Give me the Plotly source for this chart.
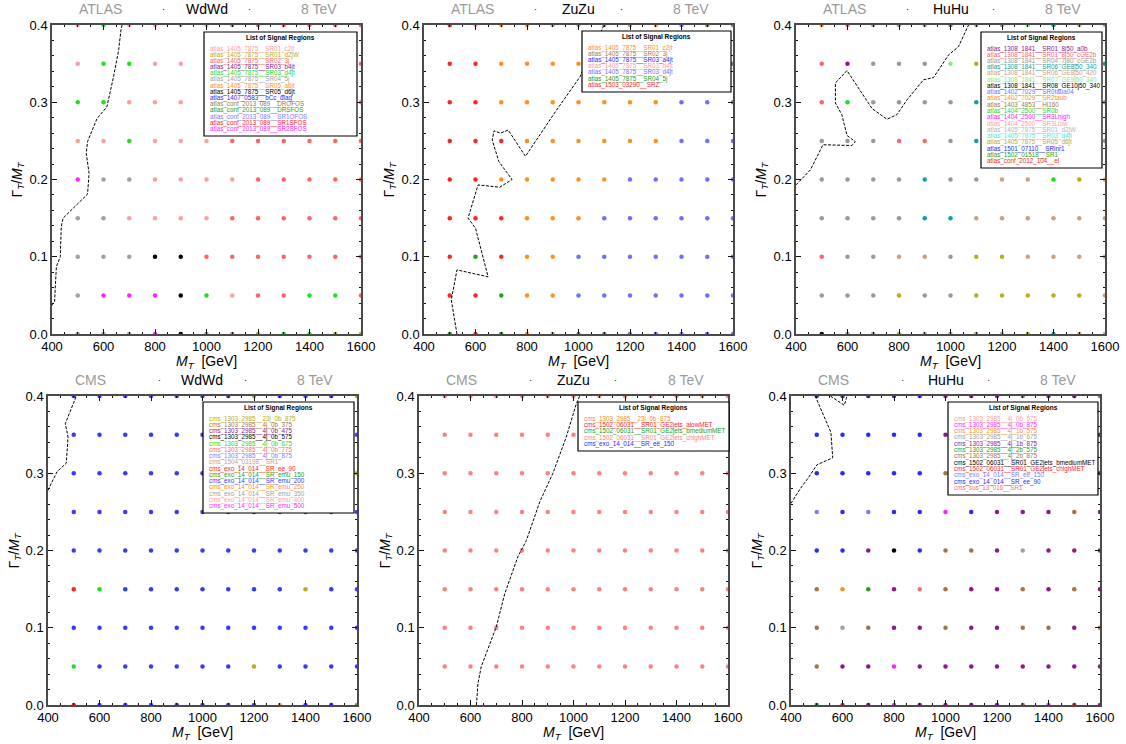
import plotly.graph_objects as go

# ---------------- data ----------------
x_values = [500, 600, 700, 800, 900, 1000, 1100, 1200, 1300, 1400, 1500, 1600]
y_values = [0.40, 0.35, 0.30, 0.25, 0.20, 0.15, 0.10, 0.05, 0.00]  # grid rows, top to bottom
x_ticks = [400, 600, 800, 1000, 1200, 1400, 1600]
y_ticks = [0.0, 0.1, 0.2, 0.3, 0.4]
codes = "0123456789abcdefghijk"

experiments = ["ATLAS", "ATLAS", "ATLAS", "CMS", "CMS", "CMS"]
processes = ["WdWd", "ZuZu", "HuHu", "WdWd", "ZuZu", "HuHu"]
energy = "8 TeV"

# Panel 1: ATLAS WdWd
p1_regions = ["atlas_1405_7875__SR01_c2jt", "atlas_1405_7875__SR01_d2jW", "atlas_1405_7875__SR02_3j",
              "atlas_1405_7875__SR03_b4jt", "atlas_1405_7875__SR03_d4jt", "atlas_1405_7875__SR04_5j",
              "atlas_1405_7875__SR05_a6jt", "atlas_1405_7875__SR05_d6jt", "atlas_1407_0583__bCc_diag",
              "atlas_conf_2013_089__DROFOS", "atlas_conf_2013_089__DRSFOS", "atlas_conf_2013_089__SR1OFOS",
              "atlas_conf_2013_089__SR1SFOS", "atlas_conf_2013_089__SR2SFOS"]
p1_colors = ["#FF9E9E", "#B5AD22", "#FF6464", "#8A1A8A", "#22DD22", "#A0A0A0", "#FF9020", "#000000",
             "#2828FF", "#A07850", "#22A022", "#7C7CFF", "#FF2424", "#FF22FF"]
p1_grid = ["040000222222",
           "044000222222",
           "440000222222",
           "004000222222",
           "d55000022222",
           "550000222222",
           "555772222222",
           "5ddd74022442",
           "555d72214411"]
p1_contour_x = [400, 403, 410, 417, 423, 432, 436, 443, 538, 544, 533, 538, 575, 613, 639, 659, 668, 672]
p1_contour_y = [0.037, 0.040, 0.042, 0.0875, 0.092, 0.100, 0.139, 0.150, 0.181, 0.208, 0.234, 0.249,
                0.279, 0.294, 0.333, 0.368, 0.394, 0.400]

# Panel 2: ATLAS ZuZu
p2_regions = ["atlas_1405_7875__SR01_c2jt", "atlas_1405_7875__SR02_3j", "atlas_1405_7875__SR03_a4jt",
              "atlas_1405_7875__SR03_b4jt", "atlas_1405_7875__SR03_d4jt", "atlas_1405_7875__SR04_5j",
              "atlas_1503_03290__SRZ"]
p2_colors = ["#FF9020", "#A07850", "#2828FF", "#FF9E9E", "#6E6EFF", "#22A022", "#FF2424"]
p2_grid = ["630000000411",
           "660000000441",
           "660000000441",
           "666000000444",
           "660000044444",
           "666000444444",
           "656004444444",
           "665004444444",
           "565004444444"]
p2_contour_x = [528, 506, 528, 649, 600, 571, 610, 694, 742, 691, 665, 672, 697, 727, 794, 915, 1006, 1099]
p2_contour_y = [0.0, 0.044, 0.083, 0.074, 0.137, 0.150, 0.193, 0.190, 0.200, 0.223, 0.251, 0.263,
                0.260, 0.264, 0.230, 0.290, 0.333, 0.40]

# Panel 3: ATLAS HuHu
p3_regions = ["atlas_1308_1841__SR01_8j50_a0b", "atlas_1308_1841__SR01_8j50_cGE2b",
              "atlas_1308_1841__SR04_7j80_cGE2b", "atlas_1308_1841__SR06_GE8j50_340",
              "atlas_1308_1841__SR06_GE8j50_420", "atlas_1308_1841__SR07_GE9j50_340",
              "atlas_1308_1841__SR08_GE10j50_340", "atlas_1402_7029__SR0taua04", "atlas_1402_7029__SR2taub",
              "atlas_1403_4853__Hl160", "atlas_1404_2500__SR0b", "atlas_1404_2500__SR3Lhigh",
              "atlas_1404_2500__SR3Llow", "atlas_1405_7875__SR01_d2jW", "atlas_1405_7875__SR03_d4jt",
              "atlas_1405_7875__SR05_d6jt", "atlas_1501_07110__SRlnr1", "atlas_1502_01518__SR1",
              "atlas_conf_2012_104__el"]
p3_colors = ["#8A1A8A", "#FF6464", "#999999", "#10A0A0", "#C8A07C", "#7EEE7E", "#000000", "#7070FF",
             "#FF9020", "#A07850", "#22DD22", "#FF22FF", "#FF9E9E", "#B4B4B4", "#40EAEA", "#B5AD22",
             "#2828FF", "#22A022", "#FF2424"]
p3_grid = ["812223f25344",
           "102225f22223",
           "1a2222322222",
           "222112322222",
           "222232244af4",
           "222233444444",
           "122442ff4444",
           "222f22fffff4",
           "622f42f4f344"]
p3_contour_x = [400, 456, 505, 617, 630, 598, 578, 553, 553, 598, 695, 753, 792, 831, 895, 934, 992, 1031, 1070]
p3_contour_y = [0.193, 0.2125, 0.245, 0.244, 0.249, 0.257, 0.284, 0.299, 0.325, 0.341, 0.292, 0.278,
                0.284, 0.303, 0.329, 0.332, 0.361, 0.372, 0.40]

# Panel 4: CMS WdWd
p4_regions = ["cms_1303_2985__23j_0b_875", "cms_1303_2985__4j_0b_375", "cms_1303_2985__4j_0b_475",
              "cms_1303_2985__4j_0b_575", "cms_1303_2985__4j_0b_675", "cms_1303_2985__4j_0b_775",
              "cms_1303_2985__4j_0b_875", "cms_1504_03198__SR1", "cms_exo_14_014__SR_ee_90",
              "cms_exo_14_014__SR_emu_150", "cms_exo_14_014__SR_emu_200", "cms_exo_14_014__SR_emu_250",
              "cms_exo_14_014__SR_emu_350", "cms_exo_14_014__SR_emu_400", "cms_exo_14_014__SR_emu_500"]
p4_colors = ["#B5AD22", "#A07850", "#8A1A8A", "#000000", "#22DD22", "#FF6E6E", "#7C7CFF", "#C8A07C",
             "#FF2424", "#22A022", "#3838FF", "#FF9020", "#A0A0A0", "#FF9E9E", "#FF22FF"]
p4_grid = ["aaaaaaa0aaa0",
           "aaaaaaaaaaaa",
           "aaaaaaaaaaa0",
           "aaaaaaaaaaaa",
           "aaaaaaaaaaaa",
           "84aaaaaaa0aa",
           "aaaaaaaaaaaa",
           "4aaaaaa0aaaa",
           "8aaaaaaa7aa1"]
p4_contour_x = [400, 435, 471, 478, 467, 487, 510]
p4_contour_y = [0.278, 0.302, 0.313, 0.347, 0.364, 0.381, 0.40]

# Panel 5: CMS ZuZu
p5_regions = ["cms_1303_2985__23j_0b_875", "cms_1502_06031__SR01_GE2jets_alowMET",
              "cms_1502_06031__SR01_GE2jets_bmediumMET", "cms_1502_06031__SR01_GE2jets_chighMET",
              "cms_exo_14_014__SR_ee_150"]
p5_colors = ["#FF9020", "#FF2424", "#22A022", "#FF8080", "#2828FF"]
p5_grid = ["333333333303",
           "333333333333",
           "333333333333",
           "333333333333",
           "333333333333",
           "333333333333",
           "333333333333",
           "333333333333",
           "............"]
p5_contour_x = [623, 629, 642, 681, 700, 733, 784, 817, 869, 920, 972, 1011, 1024]
p5_contour_y = [0.0, 0.028, 0.050, 0.084, 0.101, 0.144, 0.192, 0.213, 0.263, 0.300, 0.347, 0.390, 0.40]

# Panel 6: CMS HuHu
p6_regions = ["cms_1303_2985__4j_0b_575", "cms_1303_2985__4j_0b_875", "cms_1303_2985__4j_1b_575",
              "cms_1303_2985__4j_1b_675", "cms_1303_2985__4j_1b_875", "cms_1303_2985__4j_2b_575",
              "cms_1303_2985__4j_2b_875", "cms_1502_06031__SR01_GE2jets_bmediumMET",
              "cms_1502_06031__SR01_GE2jets_chighMET", "cms_exo_14_014__SR_ee_150",
              "cms_exo_14_014__SR_ee_90", "cms_sus_13_016__SR1"]
p6_colors = ["#FF9E9E", "#FF22FF", "#FF9020", "#A0A0A0", "#8A1A8A", "#22A022", "#A47444", "#000000",
             "#FF2424", "#7C7CFF", "#2828FF", "#FF6E6E"]
p6_grid = ["aaaaa4446446",
           "aaaaa4444444",
           "aaaaa6444444",
           "9a9aa1a44464",
           "aa47a6643444",
           "6254b6446464",
           "636446446646",
           "644144444444",
           "584144446184"]
p6_contour_x = [400, 436, 469, 501, 562, 555, 494, None, 553, 591, 607, 615, 617]
p6_contour_y = [0.261, 0.280, 0.295, 0.311, 0.320, 0.353, 0.40, None, 0.40, 0.391, 0.388, 0.397, 0.40]

# ---------------- layout constants ----------------
W, H = 1126, 744
FONT = "Liberation Sans, Arial, Helvetica, sans-serif"
LEG_FONT = 6.3
LEG_TITLE_FONT = 6.5
panel_px = [(52, 25, 361, 334), (424, 25, 733, 334), (796, 25, 1105, 334),
            (48, 396, 357, 705), (419, 396, 728, 705), (791, 396, 1100, 705)]
legend_px = [(204, 32, 357, 136), (582, 31, 731, 92), (981, 32, 1102, 168),
             (203, 402, 354, 513), (578, 402, 729, 451), (948, 402, 1098, 495)]

panels = [
    (p1_regions, p1_colors, p1_grid, p1_contour_x, p1_contour_y),
    (p2_regions, p2_colors, p2_grid, p2_contour_x, p2_contour_y),
    (p3_regions, p3_colors, p3_grid, p3_contour_x, p3_contour_y),
    (p4_regions, p4_colors, p4_grid, p4_contour_x, p4_contour_y),
    (p5_regions, p5_colors, p5_grid, p5_contour_x, p5_contour_y),
    (p6_regions, p6_colors, p6_grid, p6_contour_x, p6_contour_y),
]


def px2x(px):
    return px / W


def px2y(py):
    return 1 - py / H


fig = go.Figure()
annotations = []
shapes = []
layout_axes = {}

for i, (regions, colors, grid, cx, cy) in enumerate(panels):
    n = i + 1
    xa = "x" if n == 1 else f"x{n}"
    ya = "y" if n == 1 else f"y{n}"
    left, top, right, bottom = panel_px[i]

    # grid points per signal region
    for k, (name, col) in enumerate(zip(regions, colors)):
        code = codes[k]
        xs, ys = [], []
        for r, row in enumerate(grid):
            for c, ch in enumerate(row):
                if ch == code:
                    xs.append(x_values[c])
                    ys.append(y_values[r])
        if xs:
            fig.add_trace(go.Scatter(x=xs, y=ys, mode="markers", xaxis=xa, yaxis=ya,
                                     marker=dict(color=col, size=4.5, line=dict(width=0)),
                                     name=name, showlegend=False, hoverinfo="name"))
    # exclusion contour
    fig.add_trace(go.Scatter(x=cx, y=cy, mode="lines", xaxis=xa, yaxis=ya, showlegend=False,
                             line=dict(color="black", width=1, dash="3px,1.5px"), hoverinfo="skip"))

    axis_common = dict(showgrid=False, zeroline=False, showline=True, linecolor="#4a4a4a", linewidth=1.5,
                       mirror="allticks", ticks="inside", ticklen=5, tickwidth=1, tickcolor="#111",
                       automargin=False, tickfont=dict(family=FONT, size=13, color="black"))
    layout_axes[("xaxis" if n == 1 else f"xaxis{n}")] = dict(
        axis_common, domain=[px2x(left), px2x(right)], anchor=ya, range=[400, 1600],
        tickmode="array", tickvals=x_ticks, ticktext=[str(v) for v in x_ticks],
        minor=dict(ticks="inside", ticklen=2.5, tickcolor="#111", dtick=50, tick0=400))
    layout_axes[("yaxis" if n == 1 else f"yaxis{n}")] = dict(
        axis_common, domain=[px2y(bottom), px2y(top)], anchor=xa, range=[0, 0.4],
        tickmode="array", tickvals=y_ticks, ticktext=[f"{v:.1f}" for v in y_ticks],
        minor=dict(ticks="inside", ticklen=2.5, tickcolor="#111", dtick=0.02, tick0=0))

    # panel title pieces
    ty = px2y(top - 16)
    annotations += [
        dict(x=px2x(left + 25), y=ty, text=experiments[i], xanchor="left", yanchor="middle",
             font=dict(family=FONT, size=14, color="#9a9a9a")),
        dict(x=px2x(left + 111), y=ty, text="·", xanchor="center", yanchor="middle",
             font=dict(family=FONT, size=9, color="black")),
        dict(x=px2x(left + 154.5), y=ty, text=processes[i], xanchor="center", yanchor="middle",
             font=dict(family=FONT, size=14, color="black")),
        dict(x=px2x(left + 197), y=ty, text="·", xanchor="center", yanchor="middle",
             font=dict(family=FONT, size=9, color="black")),
        dict(x=px2x(left + 247), y=ty, text=energy, xanchor="left", yanchor="middle",
             font=dict(family=FONT, size=14, color="#9a9a9a")),
    ]
    # axis titles
    annotations += [
        dict(x=px2x((left + right) / 2), y=px2y(bottom + 28), text="<i>M</i><sub><i>T</i></sub>  [GeV]",
             xanchor="center", yanchor="middle", font=dict(family=FONT, size=14, color="black")),
        dict(x=px2x(left - 34), y=px2y((top + bottom) / 2), text="Γ<sub><i>T</i></sub>/<i>M</i><sub><i>T</i></sub>",
             textangle=-90, xanchor="center", yanchor="middle", font=dict(family=FONT, size=14, color="black")),
    ]

    # list of signal regions box
    bl, bt, br, bb = legend_px[i]
    shapes.append(dict(type="rect", xref="paper", yref="paper", x0=px2x(bl), x1=px2x(br),
                       y0=px2y(bb), y1=px2y(bt), line=dict(color="black", width=1.2),
                       fillcolor="white", layer="above"))
    annotations.append(dict(x=px2x((bl + br) / 2), y=px2y(bt + 5.5), text="<b>List of Signal Regions</b>",
                            xanchor="center", yanchor="middle",
                            font=dict(family=FONT, size=LEG_TITLE_FONT, color="black")))
    nreg = len(regions)
    first, last = bt + 16.5, bb - 7
    step = (last - first) / (nreg - 1)
    for k, (name, col) in enumerate(zip(regions, colors)):
        annotations.append(dict(x=px2x(bl + 3.5), y=px2y(first + k * step), text=name, xanchor="left",
                                yanchor="middle", font=dict(family=FONT, size=LEG_FONT, color=col)))

for a in annotations:
    a.setdefault("xref", "paper")
    a.setdefault("yref", "paper")
    a.setdefault("showarrow", False)

fig.update_layout(width=W, height=H, margin=dict(l=0, r=0, t=0, b=0), plot_bgcolor="white",
                  paper_bgcolor="white", showlegend=False, annotations=annotations, shapes=shapes,
                  **layout_axes)

fig.write_html("out.html", config={"displayModeBar": False},
               post_script="document.body.style.margin='0';document.body.style.overflow='hidden';")
